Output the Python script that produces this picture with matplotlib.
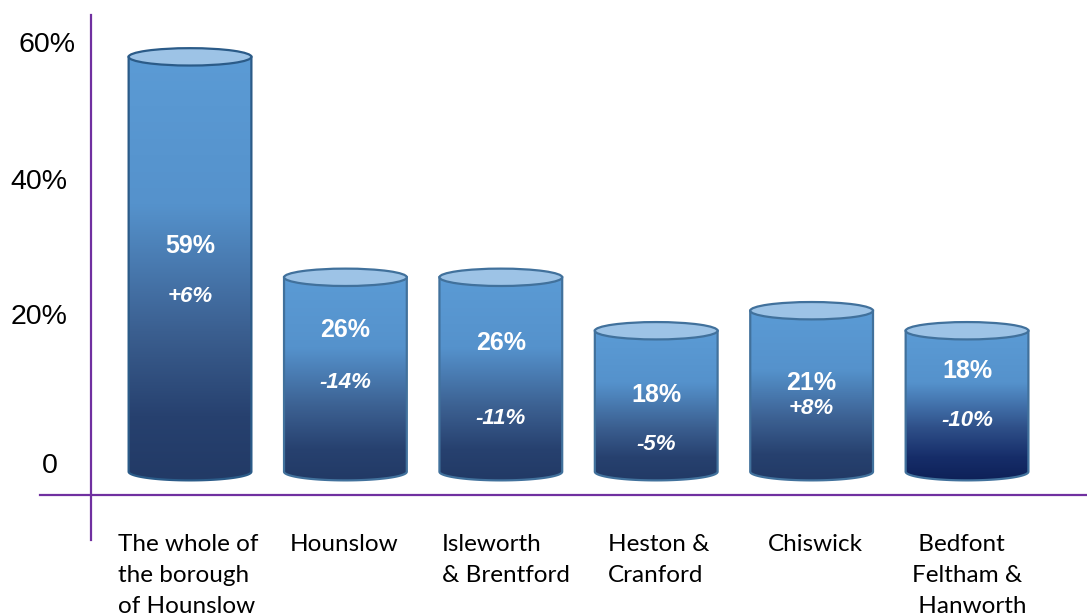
import numpy as np
import matplotlib
matplotlib.use("Agg")
import matplotlib.pyplot as plt
from matplotlib.colors import LinearSegmentedColormap
from matplotlib.patches import Ellipse, PathPatch
from matplotlib.path import Path

# data
areas = ["The whole of\nthe borough\nof Hounslow", "Hounslow", "Isleworth\n& Brentford",
         "Heston &\nCranford", "Chiswick", " Bedfont\nFeltham &\n Hanworth"]
shares = [59, 26, 26, 18, 21, 18]
changes = ["+6%", "-14%", "-11%", "-5%", "+8%", "-10%"]
tick_values = [0, 20, 40, 60]
tick_labels = ["0", "20%", "40%", "60%"]

# layout (data units)
value_label_y = [30.7, 18.1, 16.2, 8.4, 10.2, 12.0]
change_label_y = [23.1, 10.3, 4.9, 0.9, 6.3, 4.5]
label_dx = [-0.465, -0.355, -0.38, -0.31, -0.28, -0.355]
base = -3.1
bar_w = 0.79
cap_h = 2.6

purple = "#7030A0"
grad = LinearSegmentedColormap.from_list(
    "cyl", [(0, "#5B9BD5"), (0.35, "#5592CC"), (0.65, "#3B5F90"), (0.85, "#27416F"), (1, "#223A66")])
grad_dark = LinearSegmentedColormap.from_list(
    "cyl2", [(0, "#5B9BD5"), (0.35, "#5592CC"), (0.65, "#2F5089"), (0.85, "#162D69"), (1, "#0E2158")])

fig = plt.figure(figsize=(10.87, 6.15), dpi=100)
ax = fig.add_axes([0, 0, 1, 1])
ax.set_xlim(-1.2227, 5.772)
ax.set_ylim(-24.55, 67.51)
ax.axis("off")

ramp = np.linspace(0, 1, 256).reshape(-1, 1)

for i, v in enumerate(shares):
    l, r = i - bar_w / 2, i + bar_w / 2
    t = np.linspace(0, -np.pi, 60)
    arc = np.column_stack([i + bar_w / 2 * np.cos(t), base + cap_h / 2 * np.sin(t)])
    verts = np.vstack([[l, base], [l, v], [r, v], [r, base], arc, [l, base]])
    codes = [Path.MOVETO] + [Path.LINETO] * (len(verts) - 2) + [Path.CLOSEPOLY]
    body = Path(verts, codes)

    edge = "#2B5B88" if i == 0 else "#41719C"
    cmap = grad_dark if i == len(shares) - 1 else grad
    im = ax.imshow(ramp, cmap=cmap, aspect="auto", origin="upper",
                   extent=[l, r, base - cap_h / 2, v], zorder=2)
    clip = PathPatch(body, facecolor="none", edgecolor="none", transform=ax.transData)
    ax.add_patch(clip)
    im.set_clip_path(clip)
    ax.add_patch(PathPatch(body, facecolor="none", edgecolor=edge, lw=1.6, zorder=3))
    ax.add_patch(Ellipse((i, v), bar_w, cap_h, facecolor="#9DC3E6", edgecolor=edge,
                         lw=1.6, zorder=4))

    ax.text(i, value_label_y[i], f"{v}%", ha="center", va="center", color="white",
            fontsize=18, fontweight="bold", family="Liberation Sans", zorder=5)
    ax.text(i, change_label_y[i], changes[i], ha="center", va="center", color="white",
            fontsize=16, fontweight="bold", style="italic", family="Liberation Sans", zorder=5)
    ax.text(i + label_dx[i], -12.4, areas[i], ha="left", va="top", fontsize=17.5,
            family="Lato", linespacing=1.6, color="black")

# axes lines
ax.plot([-0.965, 5.772], [-6.59, -6.59], color=purple, lw=1.6, clip_on=False)
ax.plot([-0.637, -0.637], [-13.3, 65.3], color=purple, lw=1.6, clip_on=False)

# y tick labels
tick_x = [-0.85, -0.79, -0.79, -0.735]
tick_y = [-2.2, 20.0, 40.3, 60.8]
for tx, ty, lab in zip(tick_x, tick_y, tick_labels):
    ax.text(tx, ty, lab, ha="right", va="center", fontsize=20.5, family="Liberation Sans")

fig.savefig("out.png", dpi=100)
